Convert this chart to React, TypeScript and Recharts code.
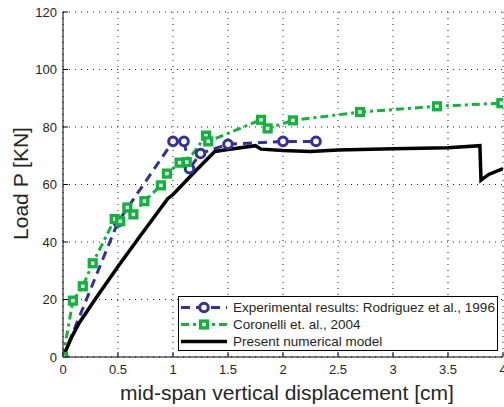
import React from 'react';
import { LineChart, Line, XAxis, YAxis, CartesianGrid, Legend, Label } from 'recharts';

// ---- data ----
const expDisp = [0, 0.5, 1.0, 1.1, 1.15, 1.25, 1.5, 2.0, 2.3];
const expLoad = [0, 47, 75, 75, 65.5, 70.8, 74, 75, 75];

const corDisp = [0, 0.09, 0.18, 0.27, 0.47, 0.52, 0.585, 0.64, 0.74, 0.89, 0.945, 1.06, 1.125, 1.3, 1.32, 1.8, 1.86, 2.09, 2.7, 3.4, 3.985];
const corLoad = [0, 19.6, 24.6, 32.6, 48, 47.2, 52, 49.6, 54.2, 59.7, 63.8, 67.6, 67.8, 77, 75, 82.5, 79.5, 82.3, 85.2, 87.2, 88.3];

const modelDisp = [0, 0.08, 0.15, 0.3, 0.5, 0.7, 0.95, 1.0, 1.05, 1.2, 1.38, 1.5, 1.75, 1.8, 2.0, 2.25, 2.5, 3.0, 3.5, 3.79, 3.8, 3.87, 4.0];
const modelLoad = [0, 7, 12, 20.5, 31.5, 42, 55, 56.5, 58.5, 64.5, 71.5, 72.2, 73.5, 72.3, 71.8, 71.5, 72, 72.4, 72.8, 73.5, 61.5, 63.5, 65.5];

const xTicks = [0, 0.5, 1, 1.5, 2, 2.5, 3, 3.5, 4];
const yTicks = [0, 20, 40, 60, 80, 100, 120];
const seriesNames = [
  'Experimental results: Rodriguez et al., 1996',
  'Coronelli et. al., 2004',
  'Present numerical model',
];
const xTitle = 'mid-span vertical displacement [cm]';
const yTitle = 'Load P [KN]';

// ---- styles ----
const FONT = '"Liberation Sans", Arial, Helvetica, sans-serif';
const BLUE = '#332f9e';
const GREEN = '#12b33c';
const BLACK = '#000000';
const TEXT = '#262626';

const toRows = (xs: number[], ys: number[]) => xs.map((x, i) => ({ x, y: ys[i] }));
const expData = toRows(expDisp, expLoad);
const corData = toRows(corDisp, corLoad);
const modelData = toRows(modelDisp, modelLoad);

const CircleDot = (p: any) => (
  <circle key={`c${p.index}`} cx={p.cx} cy={p.cy} r={4.3} fill="#fff" stroke={BLUE} strokeWidth={3} />
);
const SquareDot = (p: any) => (
  <rect key={`s${p.index}`} x={p.cx - 3.4} y={p.cy - 3.4} width={6.8} height={6.8} fill="#fff" stroke={GREEN} strokeWidth={3.4} />
);

const BottomTick = (p: any) => (
  <g>
    <line x1={p.x} x2={p.x} y1={p.y - 12} y2={p.y - 17} stroke="#000" strokeWidth={1} />
    <text x={p.x} y={p.y} dy="0.36em" textAnchor="middle" fontSize={13} fill={TEXT} fontFamily={FONT}>
      {p.payload.value}
    </text>
  </g>
);
const LeftTick = (p: any) => (
  <g>
    <line x1={p.x + 6} x2={p.x + 11} y1={p.y} y2={p.y} stroke="#000" strokeWidth={1} />
    <text x={p.x} y={p.y} dy="0.36em" textAnchor="end" fontSize={13} fill={TEXT} fontFamily={FONT}>
      {p.payload.value}
    </text>
  </g>
);
const TopTick = (p: any) => (
  <line x1={p.x} x2={p.x} y1={p.y} y2={p.y + 5} stroke="#000" strokeWidth={1} />
);
const RightTick = (p: any) => (
  <line x1={p.x} x2={p.x - 5} y1={p.y} y2={p.y} stroke="#000" strokeWidth={1} />
);

const LegendSample = ({ idx }: { idx: number }) => (
  <svg width={48} height={17} style={{ display: 'block', flex: 'none' }}>
    {idx === 0 && (
      <>
        <line x1={1} x2={47} y1={8.5} y2={8.5} stroke={BLUE} strokeWidth={3} strokeDasharray="9 6" />
        <circle cx={24} cy={8.5} r={4.3} fill="#fff" stroke={BLUE} strokeWidth={3} />
      </>
    )}
    {idx === 1 && (
      <>
        <line x1={1} x2={47} y1={8.5} y2={8.5} stroke={GREEN} strokeWidth={3} strokeDasharray="8 4 3 4" />
        <rect x={20.6} y={5.1} width={6.8} height={6.8} fill="#fff" stroke={GREEN} strokeWidth={3.4} />
      </>
    )}
    {idx === 2 && <line x1={1} x2={47} y1={8.5} y2={8.5} stroke={BLACK} strokeWidth={3.5} />}
  </svg>
);

const LegendBox = () => (
  <div
    style={{
      boxSizing: 'border-box',
      width: 320,
      height: 55,
      border: '1px solid #000',
      background: '#fff',
      padding: '2px 0 0 1px',
      fontFamily: FONT,
      fontSize: 13.5,
      color: TEXT,
    }}
  >
    {seriesNames.map((name, i) => (
      <div key={name} style={{ display: 'flex', alignItems: 'center', height: 17, whiteSpace: 'nowrap' }}>
        <LegendSample idx={i} />
        <span style={{ marginLeft: 5, lineHeight: '17px' }}>{name}</span>
      </div>
    ))}
  </div>
);

export default function App() {
  return (
    <div style={{ position: 'absolute', left: 0, top: 0, width: 504, height: 407, background: '#fff', fontFamily: FONT }}>
      <LineChart width={504} height={407} margin={{ top: 12, right: 1, bottom: 0, left: 0 }}>
        <CartesianGrid
          stroke="#222"
          strokeDasharray="1 5"
          strokeWidth={1}
          horizontalValues={yTicks}
          verticalValues={xTicks}
        />
        <XAxis
          dataKey="x"
          type="number"
          domain={[0, 4]}
          ticks={xTicks}
          interval={0}
          allowDataOverflow
          height={50}
          tickSize={0}
          tickMargin={12}
          tickLine={false}
          axisLine={{ stroke: '#000', strokeWidth: 1 }}
          tick={<BottomTick />}
        >
          <Label
            content={() => (
              <text x={287} y={400} textAnchor="middle" fontSize={21} fill={TEXT} fontFamily={FONT}>
                {xTitle}
              </text>
            )}
          />
        </XAxis>
        <XAxis
          xAxisId="top"
          orientation="top"
          type="number"
          domain={[0, 4]}
          ticks={xTicks}
          interval={0}
          allowDataOverflow
          height={0}
          tickSize={0}
          tickMargin={0}
          tickLine={false}
          axisLine={{ stroke: '#000', strokeWidth: 1 }}
          tick={<TopTick />}
        />
        <YAxis
          type="number"
          domain={[0, 120]}
          ticks={yTicks}
          interval={0}
          allowDataOverflow
          width={63}
          tickSize={0}
          tickMargin={6}
          tickLine={false}
          axisLine={{ stroke: '#000', strokeWidth: 1 }}
          tick={<LeftTick />}
        >
          <Label
            content={() => (
              <text transform="translate(27.7,183.5) rotate(-90)" textAnchor="middle" fontSize={21} fill={TEXT} fontFamily={FONT}>
                {yTitle}
              </text>
            )}
          />
        </YAxis>
        <YAxis
          yAxisId="right"
          orientation="right"
          type="number"
          domain={[0, 120]}
          ticks={yTicks}
          interval={0}
          allowDataOverflow
          width={0}
          tickSize={0}
          tickMargin={0}
          tickLine={false}
          axisLine={{ stroke: '#000', strokeWidth: 1 }}
          tick={<RightTick />}
        />
        <Legend
          layout="vertical"
          align="center"
          verticalAlign="middle"
          wrapperStyle={{ left: 178, top: 296, width: 320, height: 55 }}
          content={() => <LegendBox />}
        />
        <Line
          data={expData}
          dataKey="y"
          name={seriesNames[0]}
          stroke={BLUE}
          strokeWidth={3}
          strokeDasharray="9 6"
          dot={CircleDot}
          activeDot={false}
          isAnimationActive={false}
          type="linear"
        />
        <Line
          data={corData}
          dataKey="y"
          name={seriesNames[1]}
          stroke={GREEN}
          strokeWidth={3}
          strokeDasharray="8 4 3 4"
          dot={SquareDot}
          activeDot={false}
          isAnimationActive={false}
          type="linear"
        />
        <Line
          data={modelData}
          dataKey="y"
          name={seriesNames[2]}
          stroke={BLACK}
          strokeWidth={3.5}
          dot={false}
          activeDot={false}
          isAnimationActive={false}
          type="linear"
        />
      </LineChart>
    </div>
  );
}
